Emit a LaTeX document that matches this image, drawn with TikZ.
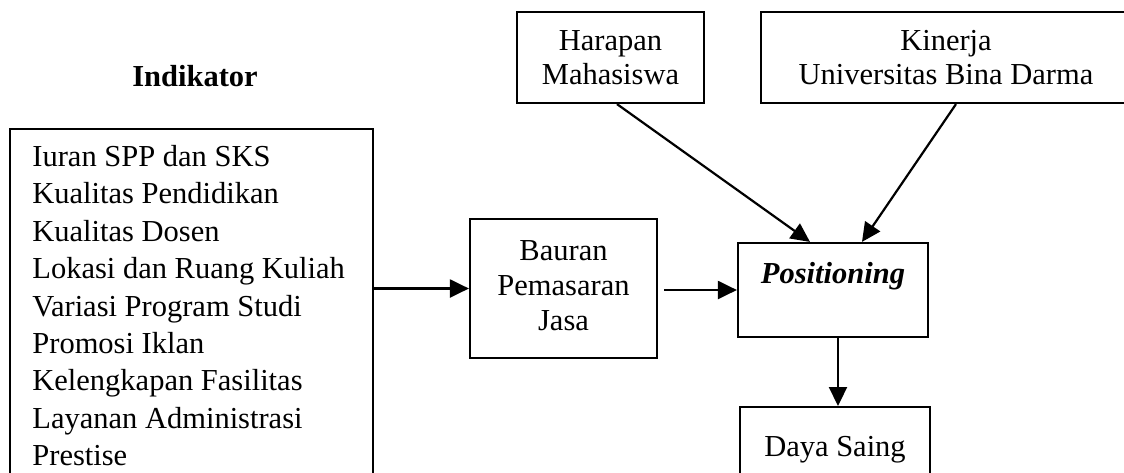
\documentclass[tikz,border=0pt]{standalone}
\usepackage{fontspec}
\setmainfont{Liberation Serif}
\usetikzlibrary{arrows.meta}

\begin{document}
\begin{tikzpicture}[
        x=0.5pt, y=-0.5pt,
        every node/.append style={font=\fontsize{15.25}{17}\selectfont},
        kotak/.style={draw, line width=1.1pt, align=center, inner sep=0pt},
        panah/.style={line width=1.1pt, -{Triangle[length=9.5pt,width=9pt]}}
    ]
        \useasboundingbox (0,0) rectangle (1124,472);
        \clip (0,0) rectangle (1124,472);
        \node[font=\fontsize{15.25}{17}\selectfont\bfseries] (judul) at (195,76) {Indikator};
        \node[kotak, anchor=north west, minimum width=181.5pt, minimum height=190pt] (faktor) at (9,128) {};
        \node[anchor=north west, align=left, inner sep=0pt, font=\fontsize{15.25}{18.7}\selectfont] (daftar) at (32,145)
            {Iuran SPP dan SKS\\ Kualitas Pendidikan\\ Kualitas Dosen\\ Lokasi dan Ruang Kuliah\\ Variasi Program Studi\\
             Promosi Iklan\\ Kelengkapan Fasilitas\\ Layanan Administrasi\\ Prestise};
        \node[kotak, minimum width=93.5pt, minimum height=69.5pt, font=\fontsize{15.25}{17.5}\selectfont] (bauran) at (563.5,288.5)
            {Bauran\\ Pemasaran\\ Jasa\vphantom{g}};
        \node[kotak, minimum width=95pt, minimum height=47pt, text height=10pt, text depth=17pt,
              font=\fontsize{15.25}{17}\selectfont\bfseries\itshape] (pos) at (833,290) {Positioning};
        \node[kotak, minimum width=93.5pt, minimum height=45.5pt] (harapan) at (610.5,57.5) {Harapan\\ Mahasiswa};
        \node[kotak, minimum width=185pt, minimum height=45.5pt] (kinerja) at (946,57.5) {Kinerja\\ Universitas Bina Darma};
        \node[kotak, anchor=north, minimum width=95pt, minimum height=59pt, text height=10pt, text depth=20pt] (daya) at (835,406) {Daya Saing};
        \draw[panah] (faktor.east |- bauran.west) -- (bauran.west);
        \draw[panah] ([xshift=3pt]bauran.east |- pos.west) -- (pos.west);
        \draw[panah] ([xshift=3.25pt]harapan.south) -- ([xshift=-11.5pt]pos.north);
        \draw[panah] ([xshift=5pt]kinerja.south) -- ([xshift=14.5pt]pos.north);
        \draw[panah] ([xshift=2.5pt]pos.south) -- ([xshift=2.5pt]pos.south |- daya.north);
    \end{tikzpicture}
\end{document}
